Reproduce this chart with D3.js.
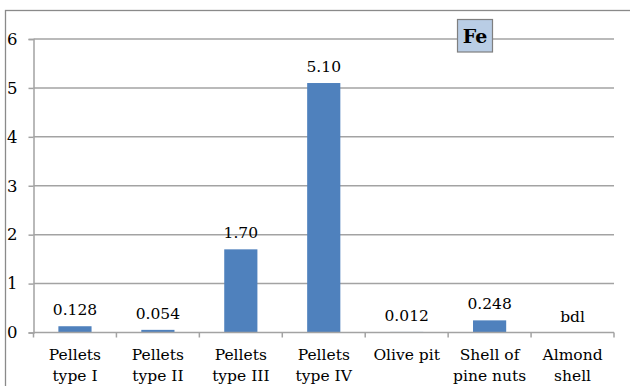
<!DOCTYPE html>
<html>
<head>
<meta charset="utf-8">
<script src="https://cdn.jsdelivr.net/npm/d3@7"></script>
<style>
  html, body { margin: 0; padding: 0; background: #fff; }
</style>
</head>
<body>
<svg id="chart" width="630" height="386"></svg>
<script>
// Fe content by sample
const categories = [
  ["Pellets", "type I"],
  ["Pellets", "type II"],
  ["Pellets", "type III"],
  ["Pellets", "type IV"],
  ["Olive pit"],
  ["Shell of", "pine nuts"],
  ["Almond", "shell"]
];
const feValues = [0.128, 0.054, 1.70, 5.10, 0.012, 0.248, 0];
const valueLabels = ["0.128", "0.054", "1.70", "5.10", "0.012", "0.248", "bdl"];
const yTicks = [0, 1, 2, 3, 4, 5, 6];
const elementLabel = "Fe";

const fontFamily = "'DejaVu Serif'";
const fontSize = "15.5px";
const svg = d3.select("#chart");
const plot = { left: 33.5, right: 614, top: 39, bottom: 332.5 };
const gridColor = "#a3a3a3";

// outer frame
svg.append("rect")
  .attr("x", 5.5).attr("y", 10.5)
  .attr("width", 700).attr("height", 500)
  .attr("fill", "none").attr("stroke", "#8a8a8a").attr("stroke-width", 1.3);

const x = d3.scaleBand()
  .domain(d3.range(categories.length))
  .range([plot.left, plot.right])
  .paddingInner(0.6).paddingOuter(0.3);

const y = d3.scaleLinear().domain([0, 6]).range([plot.bottom, plot.top]);

// horizontal gridlines
svg.append("g").selectAll("line")
  .data(yTicks.filter(d => d > 0))
  .join("line")
  .attr("x1", plot.left).attr("x2", plot.right)
  .attr("y1", d => y(d)).attr("y2", d => y(d))
  .attr("stroke", gridColor).attr("stroke-width", 1.5);

// y axis
const yAxis = svg.append("g")
  .attr("transform", `translate(${plot.left},0)`)
  .call(d3.axisLeft(y).tickValues(yTicks).tickFormat(d3.format("d")).tickSize(5).tickPadding(11));
yAxis.attr("font-family", null).attr("font-size", null);
yAxis.select(".domain").attr("stroke", gridColor).attr("stroke-width", 1.5);
yAxis.selectAll(".tick line").attr("stroke", gridColor).attr("stroke-width", 1.5);
yAxis.selectAll(".tick text").attr("fill", "#000")
  .style("font-family", fontFamily).style("font-size", "16.5px");

// bars
svg.append("g").selectAll("rect")
  .data(feValues)
  .join("rect")
  .attr("x", (d, i) => x(i))
  .attr("width", x.bandwidth())
  .attr("y", d => y(d))
  .attr("height", d => y(0) - y(d))
  .attr("fill", "#4f81bd");

// x axis line and category boundary ticks
svg.append("line")
  .attr("x1", plot.left).attr("x2", plot.right)
  .attr("y1", plot.bottom).attr("y2", plot.bottom)
  .attr("stroke", gridColor).attr("stroke-width", 1.5);
const step = x.step();
const boundaries = d3.range(categories.length + 1).map(i => plot.left + i * step);
svg.append("g").selectAll("line")
  .data(boundaries)
  .join("line")
  .attr("x1", d => d).attr("x2", d => d)
  .attr("y1", plot.bottom).attr("y2", plot.bottom + 5)
  .attr("stroke", gridColor).attr("stroke-width", 1.5);

// value labels
svg.append("g").selectAll("text")
  .data(feValues)
  .join("text")
  .attr("x", (d, i) => x(i) + x.bandwidth() / 2)
  .attr("y", d => y(d) - 11)
  .attr("text-anchor", "middle")
  .style("font-family", fontFamily)
  .style("font-size", fontSize)
  .text((d, i) => valueLabels[i]);

// category labels
const catG = svg.append("g").selectAll("text")
  .data(categories)
  .join("text")
  .attr("x", (d, i) => x(i) + x.bandwidth() / 2)
  .attr("y", 360)
  .attr("text-anchor", "middle")
  .style("font-family", fontFamily)
  .style("font-size", fontSize);
catG.selectAll("tspan")
  .data(d => d)
  .join("tspan")
  .attr("x", function () { return d3.select(this.parentNode).attr("x"); })
  .attr("dy", (d, j) => j === 0 ? 0 : 21)
  .text(d => d);

// element tag
const tag = svg.append("g");
tag.append("rect")
  .attr("x", 457.5).attr("y", 19.5)
  .attr("width", 35).attr("height", 32.5)
  .attr("fill", "#b9cde5").attr("stroke", "#7f7f7f").attr("stroke-width", 1.2);
tag.append("text")
  .attr("x", 475).attr("y", 43)
  .attr("text-anchor", "middle")
  .style("font-family", fontFamily)
  .style("font-size", "19px").style("font-weight", "bold")
  .text(elementLabel);
</script>
</body>
</html>
